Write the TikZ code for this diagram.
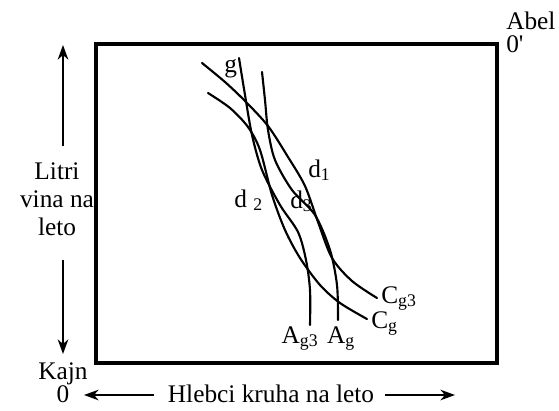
\documentclass[tikz,border=0pt]{standalone}
\usepackage{fontspec}
\setmainfont{Liberation Serif}
\usetikzlibrary{positioning, arrows.meta}

\tikzset{
  curve/.style={line width=1.6pt, line cap=round},
  axisarrow/.style={line width=1pt, -{Stealth[length=11pt, width=8pt, inset=3.5pt]}},
  lbl/.style={font=\fontsize{19}{21}\selectfont, inner sep=0pt},
}

\begin{document}
\begin{tikzpicture}[x=0.75pt, y=-0.75pt]
    \useasboundingbox (0,0) rectangle (559,410);

    % Box
    \draw[line width=2.6pt] (96,44) rectangle (497,363);

    % Curves C
    \draw[curve] plot[smooth] coordinates {(202,63) (225,82) (245,101) (268,126) (288,157) (305,186) (318,222) (332,258) (352,281) (377,298)};
    \draw[curve] plot[smooth] coordinates {(208,93) (230,108) (248,127) (260,150) (272,195) (285,230) (300,258) (320,285) (340,303) (367,319)};

    % Lines A
    \draw[curve] plot[smooth] coordinates {(239,58) (245,95) (252,135) (262,170) (280,205) (298,232) (306,260) (310,290) (310,325)};
    \draw[curve] plot[smooth] coordinates {(262,72) (265,100) (268,130) (275,160) (292,190) (315,215) (330,250) (337,285) (338,320)};

    % Curve labels
    \node[lbl, anchor=base west] (g) at (224,72) {g};
    \node[lbl, anchor=base west] (d1) at (308,177) {d\textsubscript{1}};
    \node[lbl, anchor=base west] (d2) at (234,207) {d \textsubscript{2}};
    \node[lbl, anchor=base west] (d3) at (290,208) {d\textsubscript{3}};
    \node[lbl, anchor=base west] (cg3) at (381,303) {C\textsubscript{g3}};
    \node[lbl, anchor=base west] (cg) at (371,328) {C\textsubscript{g}};
    \node[lbl, anchor=base] (ag3) at (300,343) {A\textsubscript{g3}};
    \node[lbl, anchor=base] (ag) at (341,343) {A\textsubscript{g}};

    % Origins
    \node[lbl, align=left, anchor=north west, font=\fontsize{19}{17}\selectfont] (abel) at (506,12) {Abel\\0\textquotesingle};
    \node[lbl, align=center, anchor=north, font=\fontsize{19}{16}\selectfont] (kajn) at (63,362) {Kajn\\0};

    % Axes
    \node[lbl, align=center] (vino) at (57,199) {Litri\\vina na\\leto};
    \coordinate (vtop) at (63,45);
    \coordinate (vbot) at (63,354);
    \draw[axisarrow, shorten <=12pt] (vino.north -| vtop) -- (vtop);
    \draw[axisarrow, shorten <=18pt] (vino.south -| vbot) -- (vbot);

    \node[lbl, anchor=base] (hleb) at (271,402) {Hlebci kruha na leto};
    \coordinate (hleft) at (84,395);
    \coordinate (hright) at (455,395);
    \draw[axisarrow, shorten <=10pt] (hleb.west |- hleft) -- (hleft);
    \draw[axisarrow, shorten <=8pt] (hleb.east |- hright) -- (hright);
\end{tikzpicture}
\end{document}
